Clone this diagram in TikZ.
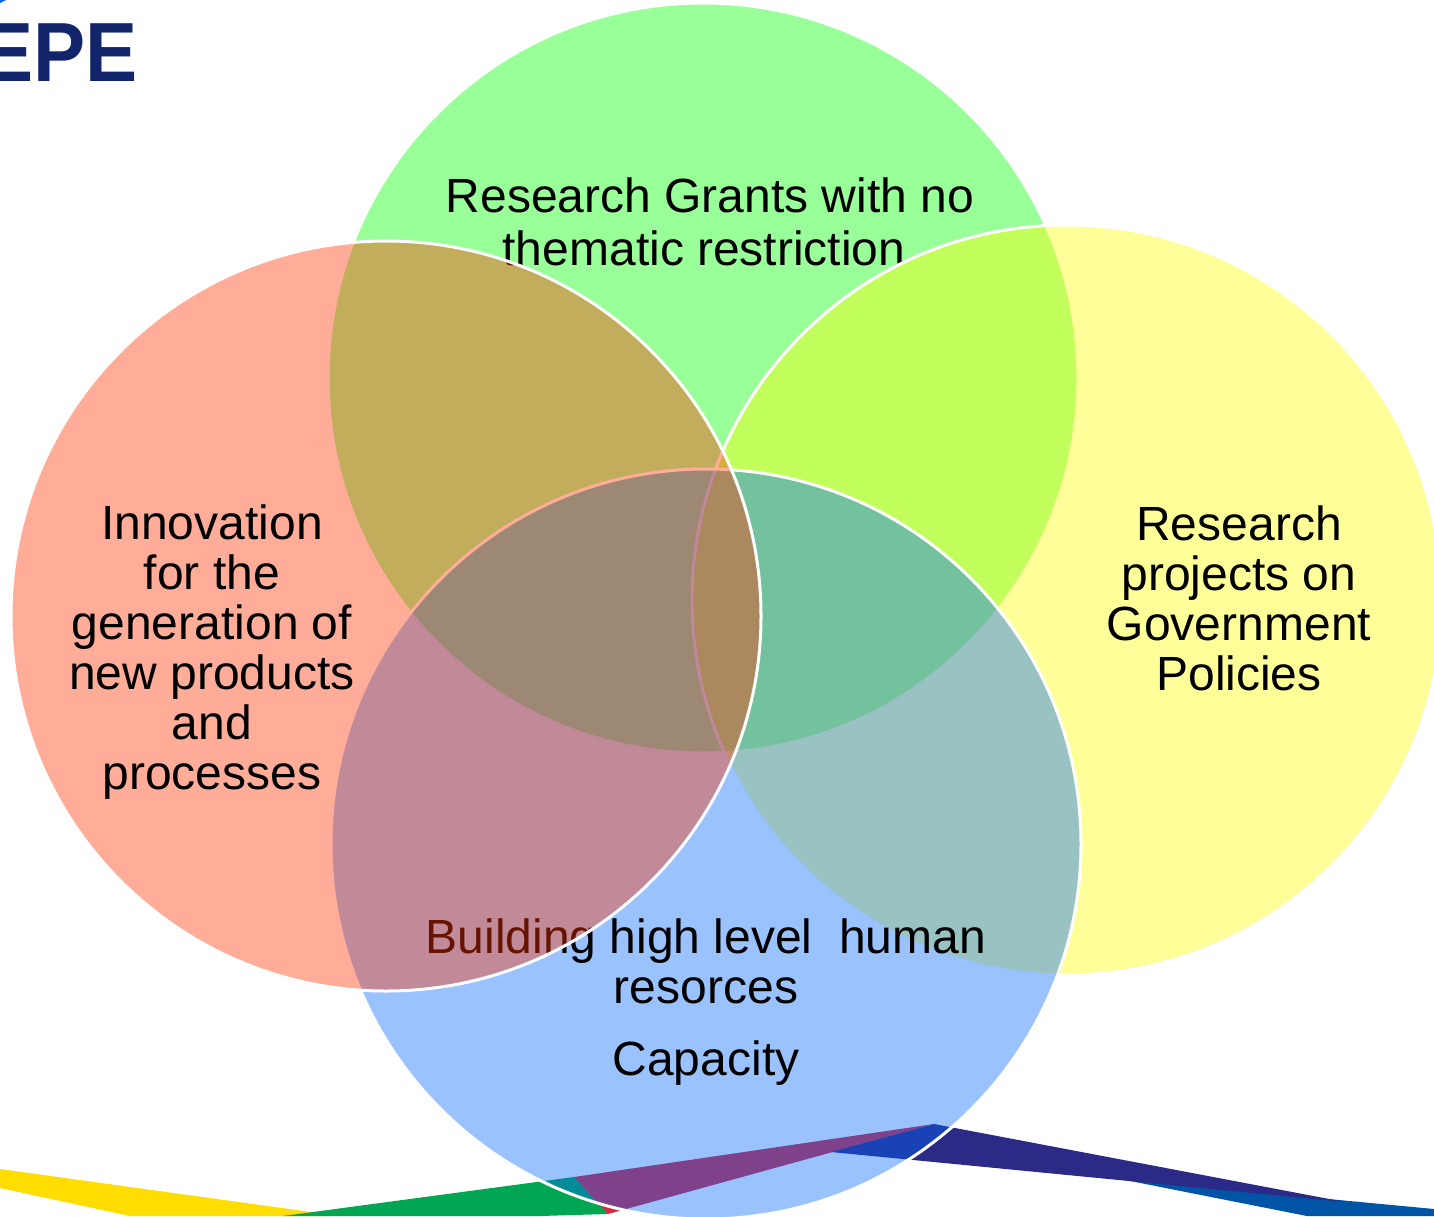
\documentclass[tikz,border=0pt]{standalone}
\usepackage{fontspec}
\setmainfont{Liberation Sans}
\definecolor{cgreen}{HTML}{00FF00}
\definecolor{cyellow}{HTML}{FFFF00}
\definecolor{cred}{HTML}{FF3300}
\definecolor{cblue}{HTML}{0066FF}
\definecolor{navy}{HTML}{12256B}
\definecolor{rbyellow}{HTML}{FFDD00}
\definecolor{rbgreen}{HTML}{00A651}
\definecolor{rbred}{HTML}{D52B3C}
\definecolor{rbnavy}{HTML}{2B2A87}
\definecolor{rbblue}{HTML}{0054A6}
\tikzset{
  venn/.style={circle,minimum size=750pt,inner sep=0pt,draw=white,line width=3pt,fill opacity=0.4,draw opacity=1,text opacity=1},
  lbl/.style={inner sep=0pt,align=center,text=black,font=\fontsize{48}{50}\selectfont},
  ribbon/.style={draw=none}
}
\begin{document}
\begin{tikzpicture}[x=1pt,y=-1pt]
\useasboundingbox (0,0) rectangle (1434,1216);
\clip (0,0) rectangle (1434,1216);
% ribbons
\fill[rbyellow,ribbon] (0,1169) -- (311,1212) -- (330,1216) -- (130,1216) -- (0,1188) -- cycle;
\fill[rbgreen,ribbon] (574,1177) -- (608,1214) -- (540,1216) -- (283,1216) -- cycle;
\fill[rbred,ribbon] (574,1177) -- (934,1124) -- (608,1214) -- cycle;
\fill[rbblue,ribbon] (1115,1178) -- (1339,1200) -- (1434,1209) -- (1434,1216) -- (1307,1216) -- cycle;
\fill[rbnavy,ribbon] (934,1124) -- (1345,1202) -- (831,1152) -- cycle;
% logo
\node[inner sep=0pt,anchor=base west,text=navy,font=\fontsize{84}{84}\selectfont\bfseries,xscale=0.93] (logo) at (-19,81) {EPE};
\fill[cblue] (0,0) -- (6,0) -- (0,3) -- cycle;
% circles, back to front; each text lies under the circles drawn after it
\node[venn,fill=cgreen] (cg) at (703,378) {};
\node[lbl] (tg) at (710,222) {Research Grants with no\\[3pt]thematic restriction\hspace*{12pt}};
\node[venn,fill=cyellow] (cy) at (1067,600) {};
\node[lbl] (ty) at (1239,598) {Research\\projects on\\Government\\Policies};
\node[venn,fill=cblue] (cb) at (706,844) {};
\node[lbl,anchor=north] (tb) at (706,918) {Building high level\ \ human\\resorces\\[22pt]Capacity};
\node[venn,fill=cred] (cr) at (386,616) {};
\node[lbl] (tr) at (212,652) {Innovation\\for the\\generation of\\new products\\and\\processes};
\end{tikzpicture}
\end{document}
